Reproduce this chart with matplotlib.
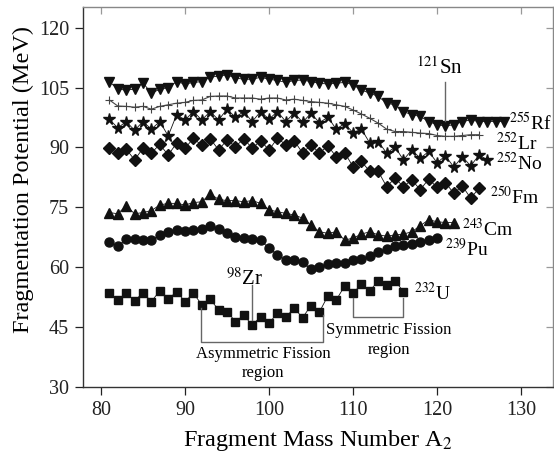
import matplotlib
matplotlib.use('Agg')
import matplotlib.pyplot as plt
import numpy as np

plt.rcParams['font.family'] = ['Liberation Serif', 'DejaVu Serif']
plt.rcParams['mathtext.fontset'] = 'stix'

# fragment mass numbers for each parent nucleus
A_rf = np.arange(81, 129)
A_lr = np.arange(81, 126)
A_no = np.arange(81, 127)
A_fm = np.arange(81, 126)
A_cm = np.arange(81, 123)
A_pu = np.arange(81, 121)
A_u = np.arange(81, 117)

# fragmentation potential (MeV)
V_rf = [106.5, 104.6, 104.4, 104.6, 106.2, 103.6, 104.6, 105.0, 106.5, 105.9,
        106.3, 106.5, 107.6, 107.9, 108.2, 107.4, 107.1, 107.1, 107.6, 107.1,
        106.8, 106.3, 106.8, 106.9, 106.5, 106.1, 105.9, 106.1, 106.3, 105.7,
        104.4, 103.6, 102.8, 101.1, 100.7, 99.0, 98.2, 97.8, 96.5, 95.7,
        95.4, 95.7, 96.5, 96.9, 96.5, 96.5, 96.5, 96.5]
V_lr = [101.9, 100.4, 100.3, 100.1, 100.3, 99.6, 100.3, 100.7, 101.1, 101.3,
        101.8, 101.9, 102.8, 102.9, 102.9, 102.4, 102.4, 102.4, 102.1, 102.4,
        102.4, 101.9, 102.1, 101.8, 101.5, 101.3, 101.1, 100.7, 100.3, 99.4,
        98.4, 97.3, 96.1, 94.6, 94.0, 94.0, 93.8, 93.6, 93.5, 93.0,
        92.8, 92.8, 93.0, 93.2, 93.2]
V_no = [97.1, 94.9, 96.5, 94.3, 96.5, 94.6, 96.5, 92.9, 98.2, 96.9,
        99.0, 96.9, 99.0, 96.9, 99.6, 97.6, 99.0, 96.5, 99.0, 97.1,
        99.0, 96.5, 98.7, 96.3, 98.6, 96.2, 97.6, 94.6, 96.0, 93.7,
        94.6, 91.1, 91.5, 88.6, 90.1, 86.9, 89.4, 87.3, 89.0, 86.2,
        87.9, 85.1, 87.7, 85.4, 88.1, 86.9]
V_fm = [89.8, 88.6, 89.6, 86.9, 89.8, 88.6, 90.8, 88.1, 91.1, 89.8,
        92.3, 90.5, 92.2, 89.4, 91.9, 90.2, 92.2, 89.8, 91.7, 89.4,
        92.3, 90.7, 91.7, 88.6, 90.7, 88.6, 90.4, 87.7, 88.7, 85.2,
        86.5, 84.0, 84.0, 80.2, 82.3, 80.2, 81.9, 79.4, 82.1, 80.0,
        81.2, 78.5, 80.4, 77.3, 79.8]
V_cm = [73.7, 73.4, 75.4, 73.4, 73.7, 74.2, 75.6, 76.0, 76.0, 75.6,
        76.2, 76.4, 78.4, 77.0, 76.7, 76.7, 76.4, 76.7, 76.0, 74.4,
        73.9, 73.5, 73.1, 72.3, 70.6, 68.9, 68.5, 68.9, 66.8, 67.3,
        68.3, 68.9, 68.1, 67.8, 68.1, 68.3, 68.9, 70.4, 71.9, 71.4,
        71.2, 71.2]
V_pu = [66.2, 65.3, 67.0, 67.0, 66.8, 66.7, 68.1, 68.9, 69.3, 69.2,
        69.3, 69.5, 70.4, 69.5, 68.5, 67.7, 67.3, 67.0, 66.7, 64.8,
        63.1, 61.8, 61.7, 61.2, 59.5, 60.0, 60.8, 61.0, 61.0, 61.8,
        62.1, 62.8, 63.7, 64.5, 65.3, 65.6, 65.8, 66.2, 66.8, 67.3]
V_u = [53.5, 51.8, 53.5, 51.6, 53.6, 51.4, 54.1, 52.0, 53.9, 51.4,
       53.5, 50.6, 52.0, 49.3, 48.9, 46.4, 48.0, 45.5, 47.6, 46.0,
       48.5, 47.6, 49.7, 47.4, 50.4, 48.8, 52.8, 51.8, 55.3, 53.5,
       55.8, 54.1, 56.6, 55.6, 56.6, 53.9]

x_ticks = [80, 90, 100, 110, 120, 130]
y_ticks = [30, 45, 60, 75, 90, 105, 120]

fig = plt.figure(figsize=(5.54, 4.57), dpi=100)
ax = fig.add_axes([0.1498, 0.1532, 0.8484, 0.8315])

k = '#111111'
ax.plot(A_rf, V_rf, color=k, lw=0.6, marker='v', ms=7.5, mec=k, mfc=k)
ax.plot(A_lr, V_lr, color='#444444', lw=0.8, marker='+', ms=6, mew=0.8)
ax.plot(A_no, V_no, color=k, lw=0.6, marker='*', ms=8.5, mec=k, mfc=k)
ax.plot(A_fm, V_fm, color=k, lw=0.6, marker='D', ms=6, mec=k, mfc=k)
ax.plot(A_cm, V_cm, color=k, lw=0.6, marker='^', ms=7, mec=k, mfc=k)
ax.plot(A_pu, V_pu, color=k, lw=0.6, marker='o', ms=6.5, mec=k, mfc=k)
ax.plot(A_u, V_u, color=k, lw=0.6, marker='s', ms=5.8, mec=k, mfc=k)

# nucleus labels
fs = 14
ax.text(128.6, 96.1, r'$^{255}$Rf', fontsize=fs, va='center', ha='left')
ax.text(127.0, 91.1, r'$^{252}$Lr', fontsize=fs, va='center', ha='left')
ax.text(127.0, 86.0, r'$^{252}$No', fontsize=fs, va='center', ha='left')
ax.text(126.3, 77.6, r'$^{250}$Fm', fontsize=fs, va='center', ha='left')
ax.text(123.0, 69.6, r'$^{243}$Cm', fontsize=fs, va='center', ha='left')
ax.text(120.9, 64.5, r'$^{239}$Pu', fontsize=fs, va='center', ha='left')
ax.text(117.3, 53.6, r'$^{232}$U', fontsize=fs, va='center', ha='left')

# magic fragments
g = '#666666'
ax.text(120.3, 110.0, r'$^{121}$Sn', fontsize=fs + 1, va='center', ha='center')
ax.plot([121, 121], [106.5, 96.6], color=g, lw=1)
ax.text(97.1, 57.1, r'$^{98}$Zr', fontsize=fs + 1, va='center', ha='center')
ax.plot([98, 98], [55.5, 46.8], color=g, lw=1)

# fission region brackets
ax.plot([91.9, 91.9, 106.4, 106.4], [49.9, 41.3, 41.3, 48.1], color=g, lw=1)
ax.text(99.3, 35.9, 'Asymmetric Fission\nregion', fontsize=12, ha='center',
        va='center', linespacing=1.3)
ax.plot([110, 110, 116, 116], [52.3, 47.5, 47.5, 52.4], color=g, lw=1)
ax.text(114.3, 41.7, 'Symmetric Fission\nregion', fontsize=12, ha='center',
        va='center', linespacing=1.3)

ax.set_xlim(77.86, 133.8)
ax.set_ylim(30, 125.2)
ax.set_xticks(x_ticks)
ax.set_yticks(y_ticks)
ax.tick_params(axis='both', labelsize=14.5, direction='out', length=6,
               width=0.9, colors='#222222', pad=4)

# inward ticks on the top and right frame
top = ax.secondary_xaxis('top')
top.set_xticks(x_ticks)
top.tick_params(direction='in', length=5, width=0.9, colors='#999999',
                labeltop=False)
right = ax.secondary_yaxis('right')
right.set_yticks(y_ticks)
right.tick_params(direction='in', length=5, width=0.9, colors='#999999',
                  labelright=False)
for s in top.spines.values():
    s.set_visible(False)
for s in right.spines.values():
    s.set_visible(False)

for side in ['left', 'bottom']:
    ax.spines[side].set_color('#333333')
    ax.spines[side].set_linewidth(1.0)
for side in ['top', 'right']:
    ax.spines[side].set_color('#888888')
    ax.spines[side].set_linewidth(1.0)

ax.set_xlabel(r'Fragment Mass Number A$_2$', fontsize=17.5, labelpad=6)
ax.set_ylabel('Fragmentation Potential (MeV)', fontsize=17.5)
ax.yaxis.set_label_coords(-0.105, 0.545)

plt.savefig('out.png', dpi=100)
plt.close()
